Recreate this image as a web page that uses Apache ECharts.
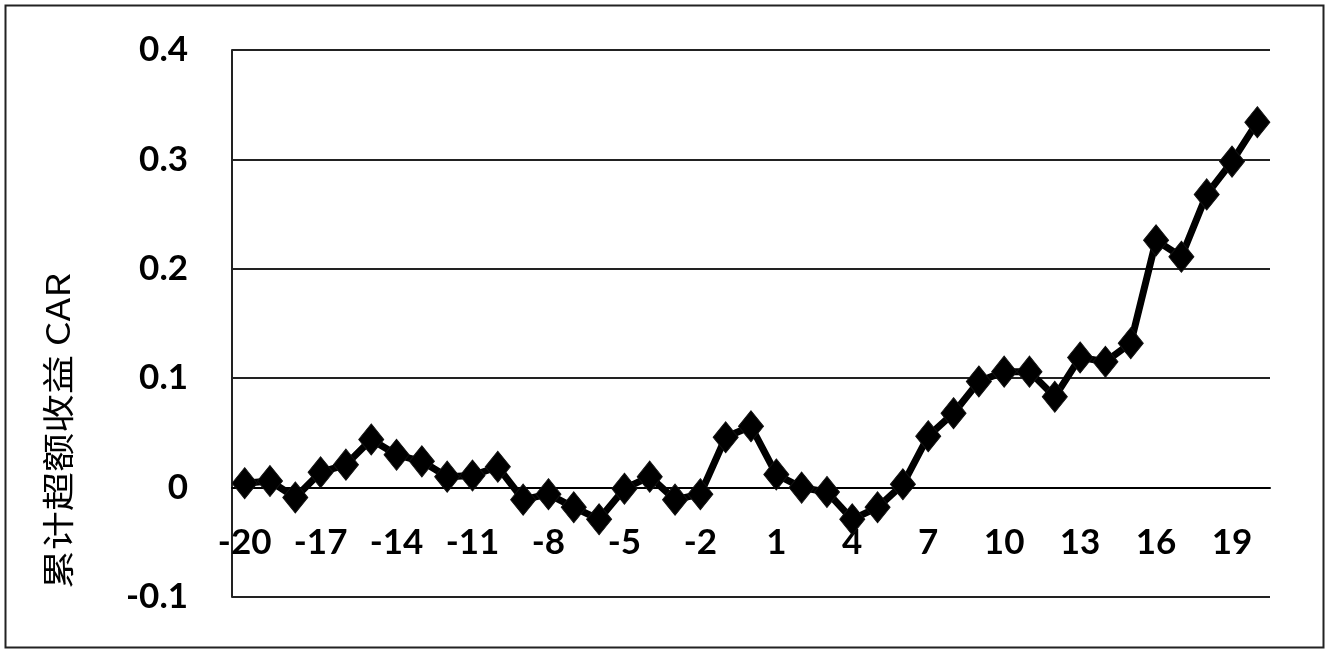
<!DOCTYPE html>
<html>
<head>
<meta charset="utf-8">
<script src="https://cdn.jsdelivr.net/npm/echarts@6/dist/echarts.min.js"></script>
<style>
html,body{margin:0;padding:0;background:#fff;}
#chart{width:1327px;height:649px;}
</style>
</head>
<body>
<div id="chart"></div>
<script>
var categories = ['-20','-19','-18','-17','-16','-15','-14','-13','-12','-11','-10','-9','-8','-7','-6','-5','-4','-3','-2','-1','0','1','2','3','4','5','6','7','8','9','10','11','12','13','14','15','16','17','18','19','20'];
var carValues = [0.004, 0.006, -0.009, 0.014, 0.021, 0.044, 0.030, 0.024, 0.010, 0.011, 0.019, -0.011, -0.006, -0.018, -0.029, -0.001, 0.010, -0.011, -0.006, 0.046, 0.056, 0.012, 0.000, -0.004, -0.029, -0.018, 0.003, 0.047, 0.068, 0.097, 0.106, 0.106, 0.083, 0.119, 0.115, 0.132, 0.226, 0.211, 0.268, 0.298, 0.334];
var yTickMin = -0.1, yTickMax = 0.4, yTickStep = 0.1;
var yAxisTitle = '累计超额收益 CAR';

var gridTop = 50, gridBottom = 52, chartH = 649;
var plotH = chartH - gridTop - gridBottom;
// distance from bottom edge (-0.1) to the zero line, so the category axis sits on zero
var zeroOffset = plotH * (0 - yTickMin) / (yTickMax - yTickMin);

var chart = echarts.init(document.getElementById('chart'), null, {renderer:'canvas'});
chart.setOption({
  backgroundColor: '#ffffff',
  animation: false,
  grid: {left: 232, right: 57, top: gridTop, bottom: gridBottom, containLabel: false, outerBoundsMode: 'none'},
  graphic: [
    {type:'rect', left: 3, top: 3, shape:{width:1318, height:642}, style:{fill:'none', stroke:'#222', lineWidth:2}, z: 0},
    {type:'text', x: 58, y: 431, rotation: Math.PI/2, scaleY: 0.82,
     style:{text: yAxisTitle, font: '39px "Noto Sans CJK SC", "Liberation Sans", sans-serif', fill:'#000', align:'center', verticalAlign:'middle'}}
  ],
  xAxis: {
    type: 'category',
    data: categories,
    boundaryGap: true,
    position: 'bottom',
    offset: -zeroOffset,
    axisLine: {show: true, onZero: false, lineStyle: {color: '#000', width: 2}},
    axisTick: {show: false},
    axisLabel: {interval: 2, color: '#000', fontSize: 35, fontWeight: 'bold', fontFamily: 'Lato', margin: 38, hideOverlap: false},
    splitLine: {show: false}
  },
  yAxis: {
    type: 'value',
    min: yTickMin, max: yTickMax, interval: yTickStep,
    axisLine: {show: true, onZero: false, lineStyle: {color: '#222', width: 2}},
    axisTick: {show: false},
    axisLabel: {color: '#000', fontSize: 35, fontWeight: 'bold', fontFamily: 'Lato', margin: 44,
      formatter: function(v){ var r = Math.round(v*10)/10; return r === 0 ? '0' : r.toFixed(1); }},
    splitLine: {show: true, lineStyle: {color: '#222', width: 2}}
  },
  series: [{
    type: 'line',
    data: carValues,
    symbol: 'diamond',
    showAllSymbol: true,
    symbolSize: [25, 31],
    lineStyle: {color: '#000', width: 7},
    itemStyle: {color: '#000', borderColor: '#111', borderWidth: 1},
    z: 5
  }]
});
</script>
</body>
</html>
